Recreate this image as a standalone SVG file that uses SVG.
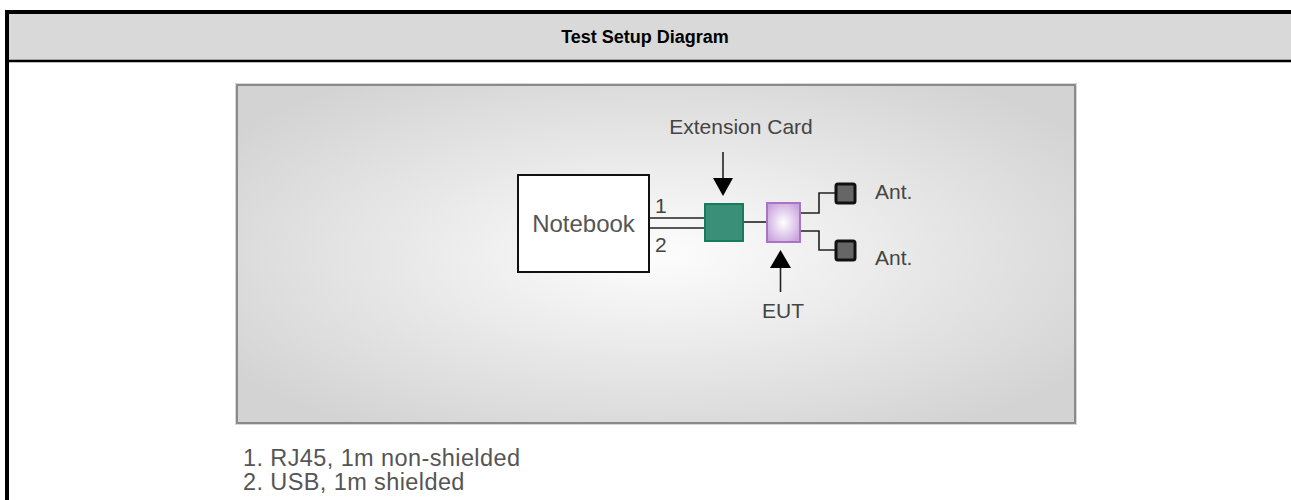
<svg xmlns="http://www.w3.org/2000/svg" width="1291" height="500" viewBox="0 0 1291 500">
  <style>
    .lbl { font-family: "Liberation Sans", Arial, sans-serif; font-size: 21px; fill: #444; }
    .big { font-size: 24px; fill: #555; }
    .note { font-family: "Liberation Sans", Arial, sans-serif; font-size: 23.5px; letter-spacing: 0.4px; fill: #555; }
    .title { font-family: "Liberation Sans", Arial, sans-serif; font-size: 18px; font-weight: bold; fill: #000; }
    .wire { fill: none; stroke: #222; stroke-width: 1.6; }
    .ant { fill: #666; stroke: #111; stroke-width: 3; }
  </style>
  <defs>
    <radialGradient id="panelFill" cx="0.5" cy="0.5" r="0.62">
      <stop offset="0" stop-color="#fdfdfd"/>
      <stop offset="1" stop-color="#d3d3d3"/>
    </radialGradient>
    <radialGradient id="eutFill" cx="0.5" cy="0.5" r="0.6">
      <stop offset="0" stop-color="#ffffff"/>
      <stop offset="1" stop-color="#c9a3dd"/>
    </radialGradient>
  </defs>

  <rect width="1291" height="500" fill="#ffffff"/>

  <!-- table header and frame -->
  <g id="header">
    <rect x="7" y="12" width="1284" height="49" fill="#d9d9d9"/>
    <line x1="5" y1="12" x2="1291" y2="12" stroke="#000" stroke-width="4"/>
    <line x1="7" y1="61" x2="1291" y2="61" stroke="#000" stroke-width="2.5"/>
    <line x1="7" y1="10" x2="7" y2="500" stroke="#000" stroke-width="4"/>
    <text class="title" x="645" y="43" text-anchor="middle">Test Setup Diagram</text>
  </g>

  <!-- drawing panel -->
  <g id="panel">
    <rect x="235.5" y="83.5" width="841" height="341" fill="none" stroke="#d8d8d8" stroke-width="1"/>
    <rect x="237" y="85" width="838" height="338" fill="url(#panelFill)" stroke="#8a8a8a" stroke-width="2"/>
  </g>

  <!-- connectors -->
  <g id="connectors">
    <line class="wire" x1="649" y1="218" x2="705" y2="218"/>
    <line class="wire" x1="649" y1="228" x2="705" y2="228"/>
    <line class="wire" x1="743" y1="222" x2="767" y2="222"/>
    <polyline class="wire" points="800,213 819,213 819,193 836,193"/>
    <polyline class="wire" points="800,231 819,231 819,250 836,250"/>
    <line class="wire" x1="723" y1="152" x2="723" y2="180"/>
    <polygon points="713,178 733,178 723,196" fill="#000"/>
    <line class="wire" x1="780.5" y1="266" x2="780.5" y2="292"/>
    <polygon points="770,268 791,268 780.5,250" fill="#000"/>
    <text class="lbl" x="655" y="213">1</text>
    <text class="lbl" x="655" y="252">2</text>
  </g>

  <g id="notebook">
    <rect x="518" y="175" width="131" height="97" fill="#ffffff" stroke="#111" stroke-width="2"/>
    <text class="lbl big" x="583.5" y="232" text-anchor="middle">Notebook</text>
  </g>

  <g id="extension-card">
    <rect x="705" y="204" width="38" height="37" fill="#3a8f78" stroke="#1a7a5c" stroke-width="2"/>
    <text class="lbl" x="741" y="134" text-anchor="middle">Extension Card</text>
  </g>

  <g id="eut">
    <rect x="767" y="203" width="33" height="39" fill="url(#eutFill)" stroke="#a874c6" stroke-width="2"/>
    <text class="lbl" x="783" y="318" text-anchor="middle">EUT</text>
  </g>

  <g id="antenna-1">
    <rect x="836" y="184" width="19" height="19" rx="2" class="ant"/>
    <text class="lbl" x="875" y="199">Ant.</text>
  </g>

  <g id="antenna-2">
    <rect x="836" y="241" width="19" height="19" rx="2" class="ant"/>
    <text class="lbl" x="875" y="265">Ant.</text>
  </g>

  <g id="notes">
    <text class="note" x="243" y="466">1. RJ45, 1m non-shielded</text>
    <text class="note" x="243" y="490">2. USB, 1m shielded</text>
  </g>
</svg>
